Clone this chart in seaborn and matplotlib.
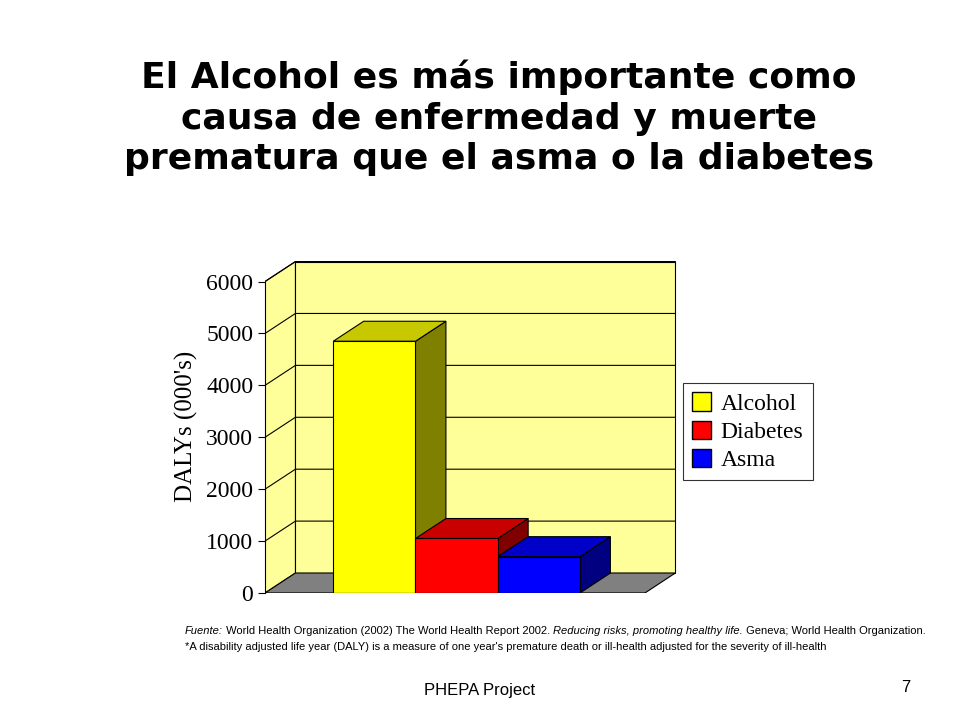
import matplotlib
matplotlib.use("Agg")
import matplotlib.pyplot as plt
import seaborn as sns
import pandas as pd
from matplotlib.patches import Polygon, Patch, Rectangle

categories = ["Alcohol", "Diabetes", "Asma"]
values = [4850, 1050, 700]
yticks = [0, 1000, 2000, 3000, 4000, 5000, 6000]
face_colors = ["#FFFF00", "#FF0000", "#0000FF"]
top_colors = ["#C8C800", "#C80000", "#0000C8"]
side_colors = ["#808000", "#800000", "#000080"]

fig = plt.figure(figsize=(9.6, 7.2), dpi=100)
ax = fig.add_axes([265/960, 127/720, 412/960, 333/720])
x0, x1 = -1.33, 3.29
dx, dy = 0.37, 385
ymax = 6000
ax.set_xlim(x0, x1 + dx + 0.02)
ax.set_ylim(0, ymax + dy + 30)

ax.add_patch(Polygon([(x0+dx, dy), (x1+dx, dy), (x1+dx, ymax+dy), (x0+dx, ymax+dy)],
                     closed=True, fc="#FFFF99", ec="black", lw=0.8, zorder=0))
ax.add_patch(Polygon([(x0, 0), (x0+dx, dy), (x0+dx, ymax+dy), (x0, ymax)],
                     closed=True, fc="#FFFF99", ec="black", lw=0.8, zorder=0))
ax.add_patch(Polygon([(x0, 0), (x1, 0), (x1+dx, dy), (x0+dx, dy)],
                     closed=True, fc="#808080", ec="black", lw=0.8, zorder=1))
for t in yticks[1:]:
    ax.plot([x0, x0+dx, x1+dx], [t, t+dy, t+dy], color="black", lw=0.8, zorder=0.5)

df = pd.DataFrame({"cat": categories, "val": values})
sns.barplot(data=df, x="cat", y="val", hue="cat", palette=face_colors, width=1.0,
            saturation=1, legend=False, ax=ax, edgecolor="black", linewidth=0.8, zorder=3)
ax.set_xlim(x0, x1 + dx + 0.02)
bars = [p for p in ax.patches if isinstance(p, Rectangle)]
for p, tc, sc in zip(bars, top_colors, side_colors):
    l, w, h = p.get_x(), p.get_width(), p.get_height()
    r = l + w
    ax.add_patch(Polygon([(l, h), (r, h), (r+dx, h+dy), (l+dx, h+dy)], closed=True,
                         fc=tc, ec="black", lw=0.8, zorder=2.9))
    ax.add_patch(Polygon([(r, 0), (r+dx, dy), (r+dx, h+dy), (r, h)], closed=True,
                         fc=sc, ec="black", lw=0.8, zorder=2.8))

for s in ["top", "right", "bottom"]:
    ax.spines[s].set_visible(False)
ax.spines["left"].set_bounds(0, ymax)
ax.plot([x0, x1], [0, 0], color="black", lw=0.8, zorder=4)
ax.set_xticks([])
ax.set_yticks(yticks)
ax.set_yticklabels([str(t) for t in yticks], fontfamily="Liberation Serif", fontsize=17)
ax.tick_params(axis="y", length=5, width=0.8)
ax.set_xlabel("")
ax.set_ylabel("DALYs (000's)", fontfamily="Liberation Serif", fontsize=18, labelpad=6)

handles = [Patch(fc=c, ec="black", label=l) for c, l in zip(face_colors, categories)]
leg = fig.legend(handles=handles, loc="upper left", bbox_to_anchor=(683/960, 1-383/720),
                 prop={"family": "Liberation Serif", "size": 17}, frameon=True,
                 fancybox=False, edgecolor="black", handlelength=0.8, handleheight=0.8,
                 borderpad=0.4, labelspacing=0.25, handletextpad=0.4, borderaxespad=0)
leg.get_frame().set_linewidth(0.8)

fig.text(0.52, 1-118/720, "El Alcohol es más importante como\ncausa de enfermedad y muerte\nprematura que el asma o la diabetes",
         ha="center", va="center", fontsize=26, fontweight="bold", linespacing=1.25,
         fontfamily="DejaVu Sans")

fig.canvas.draw()
renderer = fig.canvas.get_renderer()
def chain(pieces, x, y):
    for txt, style in pieces:
        t = fig.text(x, y, txt, fontsize=8, style=style, fontfamily="Liberation Sans", va="baseline")
        bb = t.get_window_extent(renderer=renderer)
        x += bb.width / 960
chain([("Fuente:", "italic"), (" World Health Organization (2002) The World Health Report 2002. ", "normal"),
       ("Reducing risks, promoting healthy life.", "italic"),
       (" Geneva; World Health Organization.", "normal")], 185/960, 1-634/720)
chain([("*A disability adjusted life year (DALY) is a measure of one year's premature death or ill-health adjusted for the severity of ill-health", "normal")],
      185/960, 1-650/720)
fig.text(480/960, 1-691/720, "PHEPA Project", ha="center", va="center", fontsize=12, fontfamily="Liberation Sans")
fig.text(906/960, 1-688/720, "7", ha="center", va="center", fontsize=12, fontfamily="Liberation Sans")

fig.savefig("out.png", dpi=100)
